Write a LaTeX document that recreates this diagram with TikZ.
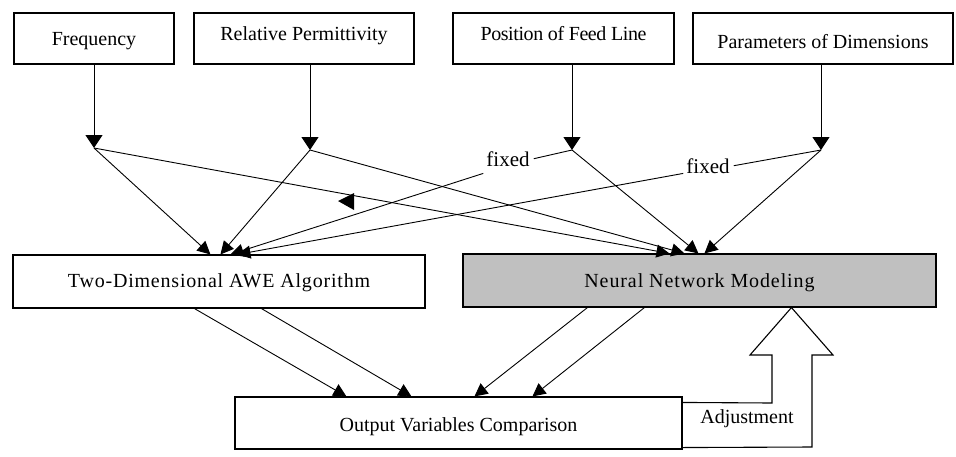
\documentclass[tikz,border=0pt]{standalone}
\usepackage{fontspec}
\setmainfont{Liberation Serif}
\usetikzlibrary{arrows.meta,calc}
\begin{document}
\begin{tikzpicture}[x=1pt,y=-1pt,
  box/.style={draw, line width=1.1pt, inner sep=0pt, font=\fontsize{20}{24}\selectfont},
  wide/.style={font=\fontsize{20}{24}\selectfont\addfontfeature{LetterSpace=#1}},
  con/.style={line width=0.9pt},
  arr/.style={con, -{Triangle[length=13pt,width=13pt]}},
  varr/.style={con, -{Triangle[length=13pt,width=17pt]}},
  lab/.style={font=\fontsize{21}{24}\selectfont, inner xsep=4pt, inner ysep=2pt, anchor=base}]
\useasboundingbox (0,0) rectangle (956,456);
% top boxes
\node[box, minimum width=160pt, minimum height=51pt, text height=15pt, text depth=2pt] (freq) at (94,38.5) {Frequency};
\node[box, minimum width=220pt, minimum height=51pt, text height=15pt, text depth=12pt] (perm) at (304,38.5) {Relative Permittivity};
\node[box, minimum width=221pt, minimum height=51pt, text height=15pt, text depth=12pt, wide=-2] (feed) at (563.5,38.5) {Position of Feed Line};
\node[box, minimum width=260pt, minimum height=51pt, text height=20pt, text depth=1pt] (dims) at (823,38.5) {Parameters of Dimensions};
% middle boxes
\node[box, minimum width=412pt, minimum height=53pt, text height=13pt, text depth=2pt, wide=4] (awe) at (219,281.5) {Two-Dimensional AWE Algorithm};
\node[box, fill={rgb,255:red,192;green,192;blue,192}, minimum width=473pt, minimum height=53pt, text height=15pt, text depth=2pt, wide=4.5] (nn) at (699.5,280.5) {Neural Network Modeling};
% bottom box
\node[box, minimum width=447pt, minimum height=52pt, text height=17pt, text depth=1pt] (out) at (458.5,423) {Output Variables Comparison};
% junctions
\coordinate (jF) at (94,148);
\coordinate (jR) at (310,150);
\coordinate (jP) at (572,150);
\coordinate (jD) at (821,150);
\draw[varr] (freq.south) -- (jF);
\draw[varr] (jR |- perm.south) -- (jR);
\draw[varr] (jP |- feed.south) -- (jP);
\draw[varr] (jD |- dims.south) -- (jD);
% fixed labels
\node[lab] (fx1) at (508,166) {fixed};
\node[lab] (fx2) at (708,173) {fixed};
% to AWE
\draw[arr] (jF) -- ($(awe.north west)+(198,0)$);
\draw[arr] (jR) -- ($(awe.north west)+(208,0)$);
\draw[con] (jP) -- (fx1.east);
\draw[arr] ($(fx1.south west)+(1,5)$) -- ($(awe.north west)+(218,0)$);
\draw[con] (jD) -- (fx2.east);
\draw[arr] ($(fx2.south west)+(1,-2)$) -- ($(awe.north west)+(225,0)$);
% to NN
\draw[arr] (jF) -- ($(nn.north west)+(207,0)$);
\draw[arr] (jR) -- ($(nn.north west)+(222,0)$);
\draw[arr] (jP) -- ($(nn.north west)+(236,0)$);
\draw[arr] (jD) -- ($(nn.north west)+(242,0)$);
% stray arrowhead
\fill (338,201) -- (354,193) -- (354,210) -- cycle;
% to output
\draw[arr] ($(awe.south west)+(182,0)$) -- ($(out.north west)+(112,0)$);
\draw[arr] ($(awe.south west)+(249,0)$) -- ($(out.north west)+(177,0)$);
\draw[arr] ($(nn.south west)+(125,0)$) -- ($(out.north west)+(240,0)$);
\draw[arr] ($(nn.south west)+(182,0)$) -- ($(out.north west)+(298,0)$);
% adjustment block arrow
\draw[line width=1.1pt, line join=miter] ($(out.north east)+(0,6)$) -- (772,403) -- (772,355) -- (750,355) -- ($(nn.south west)+(329,0)$) -- (833,355) -- (812,355) -- (812,447) -- ($(out.south east)+(0,-2)$);
\node[font=\fontsize{20}{24}\selectfont, anchor=base, inner sep=0pt] (adj) at (747,423) {Adjustment};
\end{tikzpicture}
\end{document}
